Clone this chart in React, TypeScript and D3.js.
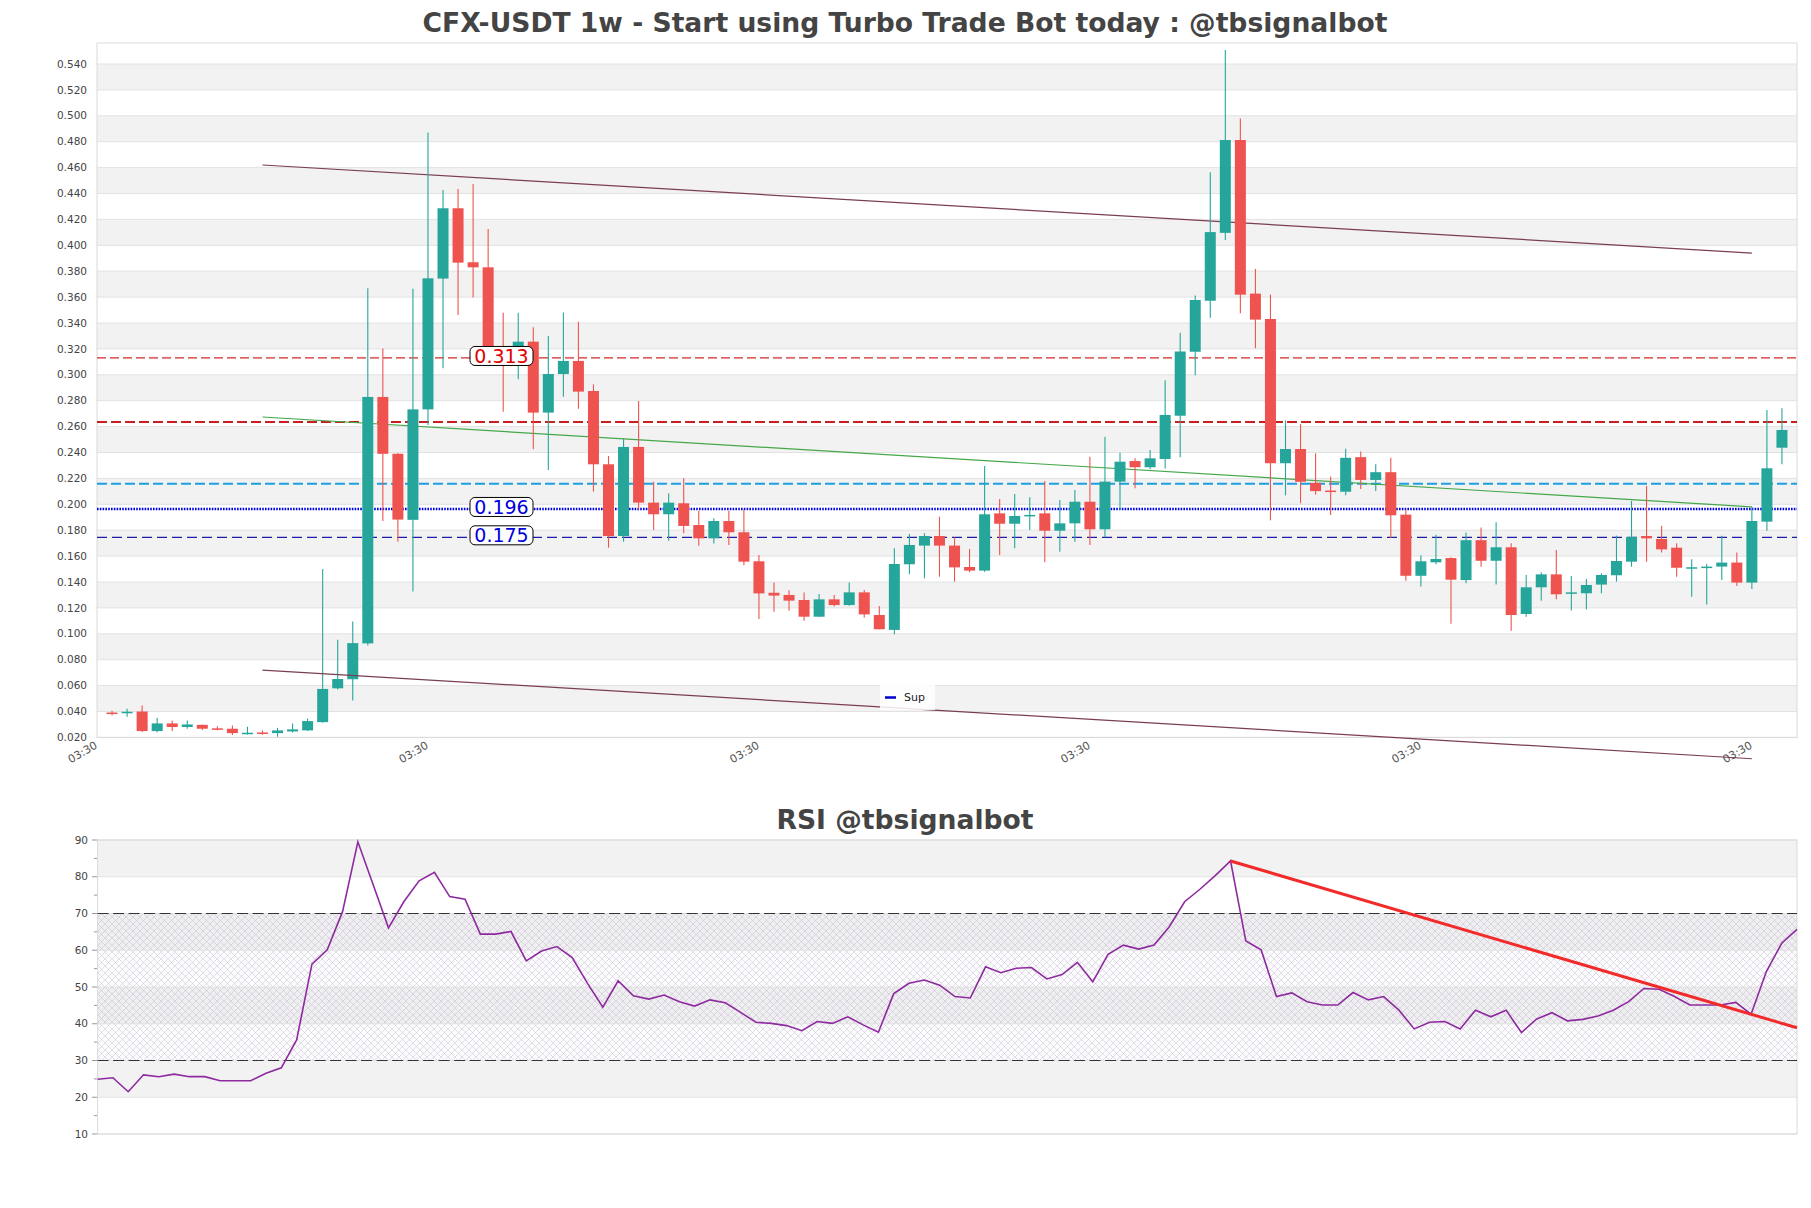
import * as d3 from "d3";

// weekly candles, values
const OPEN = [
  0.0392, 0.0388, 0.04, 0.0249, 0.0308, 0.028, 0.0297, 0.027, 0.0267, 0.0233,
  0.0238, 0.0233, 0.0246, 0.0254, 0.0318, 0.0579, 0.0649, 0.0926, 0.2829, 0.239,
  0.188, 0.2733, 0.3743, 0.4286, 0.3869, 0.383, 0.322, 0.318, 0.3256, 0.2708,
  0.3006, 0.3107, 0.2875, 0.2309, 0.1755, 0.2443, 0.2013, 0.1923, 0.2008, 0.184,
  0.1737, 0.1871, 0.1784, 0.156, 0.1317, 0.13, 0.1261, 0.1132, 0.1266, 0.1222,
  0.132, 0.1145, 0.103, 0.1537, 0.1681, 0.1755, 0.1681, 0.1516, 0.1488, 0.193,
  0.185, 0.1912, 0.193, 0.1796, 0.1853, 0.202, 0.1807, 0.2175, 0.2334, 0.2286,
  0.235, 0.2684, 0.3178, 0.3572, 0.4096, 0.4813, 0.3627, 0.3431, 0.2317, 0.2427,
  0.2166, 0.2106, 0.2097, 0.2364, 0.2188, 0.2248, 0.192, 0.1448, 0.1552, 0.1585,
  0.1415, 0.1723, 0.1564, 0.1668, 0.1153, 0.1359, 0.1459, 0.131, 0.1313, 0.138,
  0.1452, 0.1557, 0.1755, 0.1732, 0.1665, 0.1512, 0.1515, 0.1519, 0.155, 0.1395,
  0.1866, 0.2437,
];
const HIGH = [
  0.0405, 0.0421, 0.0446, 0.0351, 0.0331, 0.0331, 0.03, 0.0287, 0.0292, 0.0282,
  0.0254, 0.0274, 0.0308, 0.0346, 0.15, 0.0954, 0.1095, 0.3668, 0.3204, 0.2397,
  0.3664, 0.4872, 0.4427, 0.4435, 0.4473, 0.4126, 0.348, 0.348, 0.3367, 0.33,
  0.3482, 0.341, 0.2926, 0.2373, 0.2509, 0.2798, 0.2175, 0.2085, 0.2201, 0.195,
  0.1892, 0.195, 0.196, 0.1608, 0.1397, 0.1336, 0.1318, 0.1307, 0.13, 0.1397,
  0.1338, 0.1215, 0.166, 0.177, 0.1776, 0.1905, 0.1745, 0.1655, 0.2296, 0.2041,
  0.208, 0.2054, 0.218, 0.2033, 0.211, 0.2368, 0.2522, 0.2399, 0.2355, 0.242,
  0.2957, 0.3324, 0.3613, 0.4565, 0.5508, 0.4979, 0.3817, 0.3619, 0.2648, 0.262,
  0.2394, 0.2215, 0.2428, 0.2408, 0.2309, 0.236, 0.196, 0.1607, 0.1765, 0.1592,
  0.1782, 0.182, 0.1861, 0.1699, 0.1454, 0.1475, 0.1647, 0.1446, 0.1423, 0.1467,
  0.1758, 0.2026, 0.2141, 0.1835, 0.1699, 0.1575, 0.1539, 0.1758, 0.1627, 0.1982,
  0.2728, 0.2741,
];
const LOW = [
  0.037, 0.036, 0.0241, 0.024, 0.0249, 0.0267, 0.0257, 0.0255, 0.0218, 0.0222,
  0.022, 0.0205, 0.0238, 0.0249, 0.0313, 0.0569, 0.0485, 0.091, 0.1872, 0.171,
  0.1326, 0.2612, 0.305, 0.3462, 0.3596, 0.318, 0.2715, 0.2965, 0.2425, 0.2265,
  0.2831, 0.2738, 0.2098, 0.1665, 0.1712, 0.1961, 0.1801, 0.1719, 0.1776, 0.168,
  0.1698, 0.1686, 0.153, 0.1114, 0.117, 0.1178, 0.1101, 0.1132, 0.121, 0.1217,
  0.1125, 0.1035, 0.0996, 0.146, 0.1428, 0.1441, 0.1403, 0.1475, 0.148, 0.1609,
  0.166, 0.1802, 0.1552, 0.1634, 0.1711, 0.1686, 0.1745, 0.1956, 0.2123, 0.227,
  0.2276, 0.2364, 0.2997, 0.344, 0.4041, 0.3475, 0.3205, 0.1876, 0.2069, 0.2008,
  0.2075, 0.1917, 0.2069, 0.2119, 0.2102, 0.174, 0.141, 0.1365, 0.1537, 0.1078,
  0.1391, 0.1517, 0.1381, 0.1024, 0.1132, 0.1256, 0.1266, 0.1179, 0.1189, 0.1313,
  0.1403, 0.1518, 0.1557, 0.1627, 0.1441, 0.1287, 0.1227, 0.1415, 0.1369, 0.1346,
  0.1796, 0.231,
];
const CLOSE = [
  0.0388, 0.0398, 0.0249, 0.0308, 0.028, 0.03, 0.0267, 0.0262, 0.0233, 0.0236,
  0.0232, 0.0254, 0.0262, 0.0326, 0.0574, 0.0651, 0.0928, 0.2829, 0.239, 0.1882,
  0.2733, 0.3745, 0.4286, 0.3866, 0.383, 0.322, 0.318, 0.3256, 0.2708, 0.3006,
  0.3107, 0.287, 0.2309, 0.1755, 0.2443, 0.2013, 0.1923, 0.2013, 0.1833, 0.1737,
  0.1871, 0.1784, 0.1557, 0.1312, 0.1295, 0.1256, 0.1132, 0.1266, 0.1222, 0.132,
  0.115, 0.1035, 0.1539, 0.1686, 0.1755, 0.1681, 0.1513, 0.1488, 0.1923, 0.185,
  0.191, 0.1918, 0.1796, 0.1853, 0.202, 0.1807, 0.2175, 0.2329, 0.2286, 0.2355,
  0.269, 0.318, 0.3578, 0.4102, 0.4813, 0.3619, 0.3426, 0.2317, 0.2427, 0.2174,
  0.2102, 0.2097, 0.2359, 0.2188, 0.2248, 0.1915, 0.1448, 0.156, 0.1578, 0.1418,
  0.1723, 0.1564, 0.1668, 0.1145, 0.1359, 0.1459, 0.1305, 0.132, 0.1377, 0.1454,
  0.1562, 0.1747, 0.1737, 0.1652, 0.151, 0.1514, 0.1519, 0.155, 0.1395, 0.1871,
  0.2278, 0.2574,
];

const RSI = [
  24.9, 25.3, 21.5, 26.1, 25.6, 26.3, 25.6, 25.6, 24.5, 24.5,
  24.5, 26.5, 28.0, 35.6, 56.2, 60.1, 70.5, 89.5, 77.8, 66.1,
  73.2, 78.9, 81.2, 74.6, 73.9, 64.4, 64.4, 65.1, 57.1, 59.8,
  61.0, 58.0, 51.0, 44.5, 51.7, 47.6, 46.7, 47.8, 46.0, 44.8,
  46.5, 45.7, 43.1, 40.4, 40.1, 39.5, 38.1, 40.6, 40.1, 41.9,
  39.7, 37.7, 48.2, 51.0, 51.9, 50.5, 47.4, 47.0, 55.5, 53.9,
  55.1, 55.3, 52.2, 53.4, 56.7, 51.4, 58.9, 61.4, 60.3, 61.4,
  66.4, 73.2, 76.6, 80.3, 84.3, 62.5, 60.1, 47.4, 48.4, 46.0,
  45.1, 45.1, 48.5, 46.5, 47.4, 43.7, 38.6, 40.4, 40.6, 38.6,
  43.7, 41.9, 43.7, 37.6, 41.3, 43.0, 40.8, 41.2, 42.1, 43.7,
  46.0, 49.6, 49.4, 47.4, 45.1, 45.1, 45.1, 45.8, 42.6, 54.2,
  61.9, 65.7,
];

const PRICE_TICKS = d3.range(2, 55, 2).map((v) => v / 100);
const RSI_TICKS = [10, 20, 30, 40, 50, 60, 70, 80, 90];
const X_TICK_IDX = [-1, 21, 43, 65, 87, 109];
const X_TICK_LABELS = ["03:30", "03:30", "03:30", "03:30", "03:30", "03:30"];

const LEVEL_313 = 0.313;
const LEVEL_RES = 0.2635;
const LEVEL_MID = 0.2159;
const LEVEL_SUP = 0.1964;
const LEVEL_175 = 0.1745;
const LEVEL_LABELS = [
  { v: 0.313, text: "0.313" },
  { v: 0.1964, text: "0.196" },
  { v: 0.1745, text: "0.175" },
];

const UPPER_CHANNEL: [number, number][] = [[10, 0.462], [109, 0.394]];
const LOWER_CHANNEL: [number, number][] = [[10, 0.072], [109, 0.0035]];
const GREEN_TREND: [number, number][] = [[10, 0.2674], [109, 0.198]];
const RSI_TREND: [number, number][] = [[74, 84.3], [111, 38.9]];

const W = 1811;
const H = 1208;
const FONT = "DejaVu Sans";
const UP = "#26a69a";
const DOWN = "#ef5350";
const BAND = "#f2f2f2";
const GRID = "#e2e2e2";
const BORDER = "#dadada";

export default function App() {
  // main price panel
  const L = 97, R = 1797, T = 43;
  const x = d3.scaleLinear().domain([-1, 112]).range([L, R]);
  const y = d3.scaleLinear().domain([0.02, 0.54]).range([737.4, 64]);
  const B = y(0.02);
  const bodyW = 11;

  // RSI panel
  const rx = d3.scaleLinear().domain([0, 111]).range([97.6, 1797]);
  const ry = d3.scaleLinear().domain([10, 90]).range([1134, 840]);

  const rsiLine = d3
    .line<number>()
    .x((_, i) => rx(i))
    .y((d) => ry(d));

  const seg = (pts: [number, number][], sx: any, sy: any) => ({
    x1: sx(pts[0][0]),
    y1: sy(pts[0][1]),
    x2: sx(pts[1][0]),
    y2: sy(pts[1][1]),
  });

  const hline = (v: number) => ({ x1: L, x2: R, y1: y(v), y2: y(v) });

  return (
    <svg
      width={W}
      height={H}
      style={{ position: "absolute", left: 0, top: 0, background: "#fff" }}
      fontFamily={FONT}
    >
      <defs>
        <pattern id="hatch" width="7" height="7" patternUnits="userSpaceOnUse">
          <path d="M0,0 L7,7 M7,0 L0,7" stroke="#b4a8c0" strokeWidth="0.5" />
        </pattern>
      </defs>

      <text x={905} y={32} textAnchor="middle" fontSize={26.6} fontWeight="bold" fill="#444">
        CFX-USDT 1w - Start using Turbo Trade Bot today : @tbsignalbot
      </text>

      {/* bands + grid */}
      {PRICE_TICKS.slice(0, -1).map((t, i) =>
        i % 2 === 1 ? (
          <rect key={"b" + i} x={L} y={y(PRICE_TICKS[i + 1])} width={R - L}
            height={y(t) - y(PRICE_TICKS[i + 1])} fill={BAND} />
        ) : null
      )}
      {PRICE_TICKS.map((t) => (
        <g key={"g" + t}>
          <line x1={L} x2={R} y1={y(t)} y2={y(t)} stroke={GRID} strokeWidth={1} />
          <text x={87} y={y(t)} dy="0.35em" textAnchor="end" fontSize={10.5} fill="#444">
            {t.toFixed(3)}
          </text>
        </g>
      ))}
      <rect x={L} y={T} width={R - L} height={B - T} fill="none" stroke={BORDER} />

      {/* x ticks */}
      {X_TICK_IDX.map((idx, i) => (
        <text key={"xt" + i} transform={`translate(${x(idx) - 3},${B + 3}) rotate(-30)`}
          textAnchor="end" dy="0.75em" fontSize={11} fill="#555">
          {X_TICK_LABELS[i]}
        </text>
      ))}

      {/* horizontal levels */}
      <line {...hline(LEVEL_313)} stroke="#d42a2a" strokeWidth={1.2} strokeDasharray="9,4" />
      <line {...hline(LEVEL_RES)} stroke="#c81e1e" strokeWidth={2} strokeDasharray="10,4" />
      <line {...hline(LEVEL_MID)} stroke="#1e9fdf" strokeWidth={2} strokeDasharray="10,4" />
      <line {...hline(LEVEL_SUP)} stroke="#0000e6" strokeWidth={2.5} strokeDasharray="1.6,1.2" />
      <line {...hline(LEVEL_175)} stroke="#1c1ca8" strokeWidth={1.2} strokeDasharray="10,5" />

      {/* trend lines */}
      <line {...seg(UPPER_CHANNEL, x, y)} stroke="#7a3e52" strokeWidth={1.2} />
      <line {...seg(GREEN_TREND, x, y)} stroke="#45a84a" strokeWidth={1.2} />

      {/* candles */}
      {OPEN.map((o, i) => {
        const c = CLOSE[i];
        const col = c >= o ? UP : DOWN;
        const top = y(Math.max(o, c));
        const h = Math.max(1.5, Math.abs(y(o) - y(c)));
        return (
          <g key={"c" + i}>
            <line x1={x(i)} x2={x(i)} y1={y(HIGH[i])} y2={y(LOW[i])} stroke={col} strokeWidth={1.1} />
            <rect x={x(i) - bodyW / 2} y={top} width={bodyW} height={h} fill={col} />
          </g>
        );
      })}

      <line {...seg(LOWER_CHANNEL, x, y)} stroke="#7a3e52" strokeWidth={1.2} />

      {/* level labels */}
      {LEVEL_LABELS.map((d) => (
        <g key={d.text}>
          <rect x={470} y={y(d.v) - 11.5} width={63} height={19} rx={5}
            fill="#fff" stroke="#000" strokeWidth={1} />
          <text x={501.5} y={y(d.v) - 2} dy="0.36em" textAnchor="middle" fontSize={19}
            fill={d.v > 0.3 ? "#e00000" : "#0000e0"}>
            {d.text}
          </text>
        </g>
      ))}

      {/* legend */}
      <rect x={880} y={685} width={55} height={25} fill="#fff" fillOpacity={0.85} />
      <line x1={885} x2={896} y1={697.5} y2={697.5} stroke="#0000cd" strokeWidth={2.5} />
      <text x={904} y={697.5} dy="0.36em" fontSize={11} fill="#222">Sup</text>

      {/* ---------- RSI ---------- */}
      <text x={905} y={829} textAnchor="middle" fontSize={26.6} fontWeight="bold" fill="#444">
        RSI @tbsignalbot
      </text>
      {RSI_TICKS.slice(0, -1).map((t, i) =>
        i % 2 === 1 ? (
          <rect key={"rb" + i} x={97.6} y={ry(RSI_TICKS[i + 1])} width={1797 - 97.6}
            height={ry(t) - ry(RSI_TICKS[i + 1])} fill={BAND} />
        ) : null
      )}
      <rect x={97.6} y={ry(70)} width={1797 - 97.6} height={ry(30) - ry(70)}
        fill="#c8b4d8" fillOpacity={0.06} />
      <rect x={97.6} y={ry(70)} width={1797 - 97.6} height={ry(30) - ry(70)}
        fill="url(#hatch)" opacity={0.75} />
      {RSI_TICKS.map((t) => (
        <g key={"rg" + t}>
          <line x1={97.6} x2={1797} y1={ry(t)} y2={ry(t)} stroke={GRID} />
          <line x1={92} x2={97.6} y1={ry(t)} y2={ry(t)} stroke="#999" />
          <text x={88} y={ry(t)} dy="0.35em" textAnchor="end" fontSize={10.5} fill="#444">
            {t}
          </text>
        </g>
      ))}
      {RSI_TICKS.slice(0, -1).map((t) => (
        <line key={"mt" + t} x1={94} x2={97.6} y1={ry(t + 5)} y2={ry(t + 5)} stroke="#999" />
      ))}
      <rect x={97.6} y={840} width={1797 - 97.6} height={294} fill="none" stroke={BORDER} />
      <line x1={97.6} x2={1797} y1={ry(70)} y2={ry(70)} stroke="#333" strokeWidth={1.2} strokeDasharray="11,4.5" />
      <line x1={97.6} x2={1797} y1={ry(30)} y2={ry(30)} stroke="#333" strokeWidth={1.2} strokeDasharray="11,4.5" />

      <path d={rsiLine(RSI) || ""} fill="none" stroke="#8e2aa0" strokeWidth={1.6} />
      <line {...seg(RSI_TREND, rx, ry)} stroke="#f22a2a" strokeWidth={3} />
    </svg>
  );
}
